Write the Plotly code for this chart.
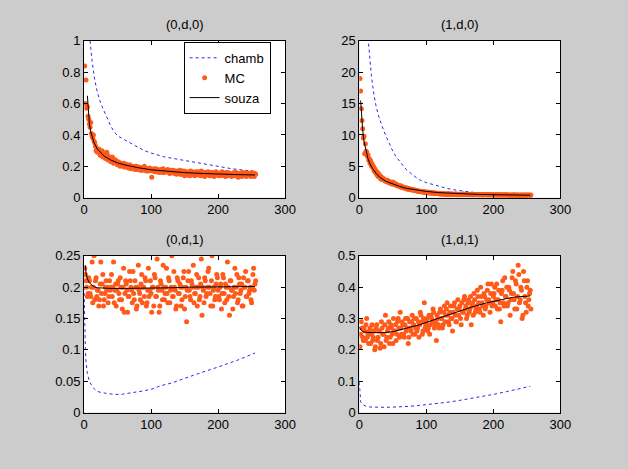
import plotly.graph_objects as go

# ---------------- data ----------------
titles = ["(0,d,0)", "(1,d,0)", "(0,d,1)", "(1,d,1)"]

# MC values at odd x (1, 3, ..., 255)
mc_00_odd = [0.84, 0.75, 0.58, 0.50, 0.45, 0.41, 0.38, 0.36, 0.33, 0.31,
             0.30, 0.29, 0.28, 0.30, 0.27, 0.28, 0.26, 0.27, 0.25, 0.255,
             0.24, 0.25, 0.23, 0.24, 0.22, 0.23, 0.215, 0.22, 0.205, 0.22,
             0.20, 0.21, 0.195, 0.205, 0.19, 0.20, 0.185, 0.195, 0.20, 0.18,
             0.19, 0.185, 0.19, 0.175, 0.185, 0.19, 0.17, 0.18, 0.185, 0.175,
             0.13, 0.18, 0.17, 0.185, 0.165, 0.175, 0.17, 0.18, 0.16, 0.175,
             0.165, 0.17, 0.18, 0.16, 0.17, 0.165, 0.175, 0.155, 0.165, 0.17,
             0.16, 0.175, 0.15, 0.165, 0.17, 0.155, 0.16, 0.145, 0.165, 0.17,
             0.15, 0.16, 0.14, 0.165, 0.155, 0.16, 0.15, 0.17, 0.145, 0.16,
             0.155, 0.15, 0.165, 0.14, 0.155, 0.16, 0.145, 0.155, 0.165, 0.15,
             0.14, 0.155, 0.16, 0.145, 0.15, 0.135, 0.155, 0.16, 0.145, 0.15,
             0.14, 0.155, 0.145, 0.16, 0.14, 0.15, 0.155, 0.135, 0.15, 0.145,
             0.16, 0.14, 0.15, 0.155, 0.135, 0.15, 0.145, 0.155]
# MC values at even x (2, 4, ..., 256)
mc_00_even = [0.60, 0.57, 0.52, 0.47, 0.48, 0.39, 0.40, 0.35, 0.30, 0.29,
              0.31, 0.27, 0.29, 0.26, 0.28, 0.25, 0.29, 0.24, 0.26, 0.23,
              0.26, 0.22, 0.24, 0.23, 0.21, 0.225, 0.20, 0.215, 0.21, 0.195,
              0.215, 0.2, 0.19, 0.21, 0.185, 0.2, 0.19, 0.18, 0.2, 0.185,
              0.195, 0.175, 0.19, 0.18, 0.2, 0.175, 0.185, 0.17, 0.19, 0.18,
              0.17, 0.185, 0.165, 0.175, 0.18, 0.16, 0.175, 0.17, 0.185, 0.16,
              0.175, 0.165, 0.17, 0.155, 0.175, 0.16, 0.165, 0.17, 0.15, 0.165,
              0.16, 0.15, 0.17, 0.16, 0.14, 0.165, 0.155, 0.16, 0.14, 0.16,
              0.165, 0.15, 0.155, 0.145, 0.165, 0.15, 0.14, 0.16, 0.155, 0.135,
              0.16, 0.15, 0.155, 0.14, 0.16, 0.15, 0.135, 0.16, 0.145, 0.155,
              0.15, 0.14, 0.165, 0.15, 0.145, 0.16, 0.14, 0.15, 0.155, 0.135,
              0.15, 0.16, 0.14, 0.15, 0.13, 0.155, 0.145, 0.16, 0.14, 0.15,
              0.135, 0.155, 0.145, 0.14, 0.16, 0.145, 0.135, 0.15]

mc_10_odd = [19.0, 14.2, 11.0, 9.8, 8.6, 7.3, 6.8, 6.2, 5.9, 5.4,
             5.0, 4.6, 4.3, 4.0, 3.8, 3.5, 3.3, 3.1, 3.0, 2.8,
             2.7, 2.5, 2.6, 2.4, 2.3, 2.4, 2.1, 2.2, 2.0, 1.9,
             1.8, 1.75, 1.7, 1.6, 1.5, 1.5, 1.4, 1.35, 1.3, 1.25,
             1.2, 1.15, 1.1, 1.05, 1.0, 1.0, 0.95, 0.9, 0.9, 0.85,
             0.85, 0.8, 0.8, 0.75, 0.75, 0.7, 0.7, 0.7, 0.65, 0.65,
             0.62, 0.55, 0.65, 0.58, 0.6, 0.52, 0.63, 0.57, 0.55, 0.6,
             0.5, 0.58, 0.53, 0.56, 0.49, 0.55, 0.52, 0.58, 0.5, 0.54,
             0.48, 0.53, 0.5, 0.47, 0.55, 0.49, 0.51, 0.46, 0.52, 0.48,
             0.5, 0.45, 0.49, 0.47, 0.51, 0.44, 0.48, 0.46, 0.5, 0.43,
             0.47, 0.45, 0.42, 0.48, 0.44, 0.46, 0.41, 0.45, 0.43, 0.47,
             0.42, 0.44, 0.05, 0.45, 0.41, 0.43, 0.4, 0.44, 0.42, 0.1,
             0.41, 0.43, 0.39, 0.42, 0.4, 0.44, 0.38, 0.41]
mc_10_even = [17.0, 12.3, 9.5, 7.0, 7.4, 6.6, 6.0, 5.5, 5.1, 4.8,
              4.3, 4.0, 3.7, 3.4, 3.3, 3.0, 2.9, 3.0, 2.7, 2.6,
              2.8, 2.4, 2.5, 2.2, 2.5, 2.1, 2.2, 1.9, 2.0, 1.75,
              1.9, 1.6, 1.65, 1.5, 1.6, 1.35, 1.45, 1.25, 1.35, 1.2,
              1.25, 1.1, 1.15, 1.0, 1.05, 0.95, 1.0, 0.85, 0.95, 0.8,
              0.9, 0.75, 0.85, 0.7, 0.8, 0.7, 0.75, 0.65, 0.7, 0.6,
              0.66, 0.57, 0.6, 0.53, 0.62, 0.55, 0.58, 0.5, 0.6, 0.54,
              0.52, 0.57, 0.48, 0.55, 0.51, 0.53, 0.47, 0.56, 0.5, 0.52,
              0.46, 0.54, 0.49, 0.51, 0.45, 0.52, 0.48, 0.5, 0.44, 0.5,
              0.47, 0.49, 0.43, 0.5, 0.46, 0.48, 0.42, 0.47, 0.45, 0.44,
              0.48, 0.43, 0.46, 0.41, 0.47, 0.44, 0.42, 0.46, 0.4, 0.45,
              0.43, 0.41, 0.44, 0.4, 0.46, 0.42, 0.39, 0.45, 0.41, 0.43,
              0.38, 0.44, 0.4, 0.42, 0.39, 0.43, 0.4, 0.42]

mc_01_odd = [0.23, 0.21, 0.185, 0.215, 0.19, 0.2, 0.175, 0.25, 0.21, 0.185,
             0.195, 0.18, 0.24, 0.205, 0.17, 0.19, 0.21, 0.2, 0.185, 0.195,
             0.22, 0.2, 0.175, 0.205, 0.195, 0.21, 0.18, 0.2, 0.165, 0.23,
             0.19, 0.205, 0.16, 0.185, 0.21, 0.195, 0.225, 0.18, 0.2, 0.17,
             0.235, 0.19, 0.205, 0.175, 0.2, 0.215, 0.17, 0.195, 0.185, 0.21,
             0.16, 0.2, 0.22, 0.185, 0.245, 0.195, 0.17, 0.205, 0.18, 0.2,
             0.19, 0.23, 0.175, 0.21, 0.195, 0.25, 0.185, 0.2, 0.165, 0.215,
             0.19, 0.205, 0.17, 0.2, 0.225, 0.185, 0.145, 0.21, 0.195, 0.18,
             0.205, 0.235, 0.19, 0.2, 0.17, 0.215, 0.185, 0.245, 0.2, 0.175,
             0.21, 0.19, 0.225, 0.2, 0.17, 0.25, 0.195, 0.18, 0.205, 0.215,
             0.185, 0.2, 0.165, 0.22, 0.19, 0.205, 0.18, 0.2, 0.155, 0.21,
             0.195, 0.185, 0.23, 0.2, 0.175, 0.215, 0.19, 0.205, 0.17, 0.2,
             0.225, 0.185, 0.21, 0.195, 0.18, 0.2, 0.23, 0.205]
mc_01_even = [0.22, 0.2, 0.19, 0.21, 0.185, 0.24, 0.2, 0.18, 0.215, 0.195,
              0.17, 0.205, 0.19, 0.22, 0.18, 0.2, 0.195, 0.175, 0.21, 0.2,
              0.185, 0.24, 0.195, 0.17, 0.205, 0.19, 0.215, 0.18, 0.2, 0.16,
              0.21, 0.195, 0.185, 0.225, 0.2, 0.175, 0.19, 0.21, 0.165, 0.2,
              0.195, 0.18, 0.22, 0.2, 0.185, 0.21, 0.175, 0.23, 0.195, 0.19,
              0.2, 0.17, 0.215, 0.185, 0.2, 0.16, 0.21, 0.195, 0.235, 0.18,
              0.2, 0.19, 0.215, 0.175, 0.2, 0.185, 0.225, 0.195, 0.17, 0.21,
              0.19, 0.2, 0.18, 0.215, 0.165, 0.2, 0.195, 0.225, 0.185, 0.21,
              0.2, 0.175, 0.19, 0.22, 0.2, 0.18, 0.205, 0.155, 0.195, 0.215,
              0.185, 0.2, 0.23, 0.19, 0.21, 0.17, 0.2, 0.185, 0.22, 0.195,
              0.18, 0.205, 0.19, 0.215, 0.175, 0.2, 0.24, 0.185, 0.21, 0.195,
              0.165, 0.2, 0.19, 0.22, 0.18, 0.205, 0.195, 0.17, 0.215, 0.2,
              0.185, 0.21, 0.19, 0.2, 0.175, 0.22, 0.195, 0.21]

mc_11_odd = [0.21, 0.29, 0.24, 0.27, 0.23, 0.3, 0.25, 0.26, 0.22, 0.28,
             0.24, 0.2, 0.27, 0.23, 0.26, 0.205, 0.29, 0.25, 0.21, 0.31,
             0.24, 0.27, 0.22, 0.28, 0.25, 0.3, 0.26, 0.23, 0.29, 0.27,
             0.32, 0.25, 0.28, 0.24, 0.3, 0.27, 0.22, 0.29, 0.26, 0.31,
             0.28, 0.25, 0.3, 0.27, 0.24, 0.32, 0.29, 0.26, 0.35, 0.28,
             0.3, 0.27, 0.25, 0.31, 0.29, 0.32, 0.28, 0.23, 0.3, 0.27,
             0.33, 0.3, 0.28, 0.34, 0.31, 0.35, 0.29, 0.32, 0.3, 0.26,
             0.34, 0.31, 0.29, 0.36, 0.33, 0.3, 0.35, 0.32, 0.37, 0.34,
             0.31, 0.36, 0.33, 0.28, 0.35, 0.38, 0.32, 0.34, 0.37, 0.33,
             0.4, 0.35, 0.31, 0.37, 0.34, 0.39, 0.36, 0.32, 0.41, 0.35,
             0.38, 0.34, 0.41, 0.36, 0.33, 0.29, 0.39, 0.35, 0.43, 0.37,
             0.34, 0.4, 0.31, 0.38, 0.45, 0.36, 0.42, 0.33, 0.47, 0.35,
             0.4, 0.3, 0.45, 0.37, 0.32, 0.42, 0.36, 0.39]
mc_11_even = [0.25, 0.27, 0.23, 0.26, 0.28, 0.24, 0.22, 0.27, 0.25, 0.23,
              0.26, 0.21, 0.28, 0.24, 0.26, 0.22, 0.27, 0.25, 0.28, 0.23,
              0.26, 0.29, 0.24, 0.27, 0.22, 0.26, 0.28, 0.25, 0.3, 0.24,
              0.27, 0.29, 0.25, 0.28, 0.26, 0.3, 0.24, 0.27, 0.29, 0.25,
              0.3, 0.27, 0.26, 0.29, 0.28, 0.31, 0.25, 0.3, 0.27, 0.29,
              0.26, 0.31, 0.28, 0.3, 0.33, 0.27, 0.29, 0.31, 0.28, 0.32,
              0.3, 0.27, 0.32, 0.29, 0.33, 0.31, 0.28, 0.34, 0.3, 0.32,
              0.35, 0.29, 0.33, 0.31, 0.34, 0.28, 0.32, 0.36, 0.33, 0.3,
              0.35, 0.32, 0.37, 0.34, 0.31, 0.36, 0.33, 0.39, 0.35, 0.32,
              0.37, 0.34, 0.38, 0.33, 0.36, 0.41, 0.35, 0.38, 0.34, 0.37,
              0.4, 0.36, 0.33, 0.39, 0.35, 0.38, 0.42, 0.34, 0.37, 0.4,
              0.35, 0.39, 0.36, 0.43, 0.38, 0.33, 0.41, 0.37, 0.44, 0.36,
              0.39, 0.31, 0.42, 0.35, 0.4, 0.34, 0.38, 0.33]

# chamb curves
chamb_00_x = [9, 12, 16, 20, 25, 30, 35, 40, 45, 50, 60, 70, 80, 90, 100, 120, 140, 160, 180, 200, 220, 240, 255]
chamb_00_y = [1.0, 0.87, 0.75, 0.67, 0.6, 0.55, 0.5, 0.455, 0.42, 0.395, 0.37, 0.345, 0.32, 0.30, 0.285, 0.26, 0.245, 0.23, 0.215, 0.2, 0.185, 0.175, 0.168]
chamb_10_x = [13, 15, 18, 21, 24, 28, 32, 36, 40, 45, 50, 55, 60, 70, 80, 90, 100, 115, 130, 145, 160, 175, 190, 210, 230, 255]
chamb_10_y = [25.5, 22.5, 19.5, 17, 15.1, 13.3, 12, 10.8, 9.8, 8.5, 7.4, 6.5, 5.8, 4.5, 3.6, 2.85, 2.4, 1.9, 1.5, 1.2, 0.95, 0.78, 0.65, 0.55, 0.48, 0.42]
chamb_01_x = [0, 0.5, 1, 2, 3, 5, 8, 12, 16, 20, 25, 35, 45, 55, 70, 85, 100, 115, 130, 150, 170, 190, 210, 230, 255]
chamb_01_y = [0.2, 0.16, 0.13, 0.1, 0.08, 0.062, 0.05, 0.042, 0.037, 0.034, 0.032, 0.03, 0.029, 0.029, 0.031, 0.034, 0.037, 0.043, 0.047, 0.055, 0.062, 0.069, 0.076, 0.084, 0.095]
chamb_11_x = [0, 0.5, 1, 2, 4, 7, 10, 15, 20, 30, 45, 60, 75, 90, 105, 120, 135, 150, 165, 180, 200, 220, 240, 255]
chamb_11_y = [0.097, 0.07, 0.05, 0.035, 0.027, 0.022, 0.02, 0.018, 0.017, 0.017, 0.017, 0.018, 0.02, 0.023, 0.026, 0.03, 0.034, 0.039, 0.044, 0.049, 0.058, 0.067, 0.076, 0.084]

# souza curves
souza_00_x = [5, 6, 7, 8, 10, 12, 15, 20, 25, 30, 40, 50, 60, 70, 80, 100, 120, 150, 180, 200, 230, 255]
souza_00_y = [0.65, 0.57, 0.51, 0.47, 0.42, 0.39, 0.35, 0.31, 0.285, 0.265, 0.24, 0.222, 0.21, 0.2, 0.192, 0.178, 0.17, 0.16, 0.154, 0.15, 0.147, 0.145]
souza_10_x = [2, 3, 4, 5, 7, 10, 13, 16, 20, 25, 30, 40, 50, 60, 70, 80, 100, 120, 150, 180, 210, 255]
souza_10_y = [15.5, 13.5, 12, 10.8, 9, 7.3, 6.2, 5.4, 4.6, 3.9, 3.3, 2.6, 2.15, 1.8, 1.5, 1.3, 1.0, 0.8, 0.62, 0.52, 0.46, 0.4]
souza_01_x = [2, 3, 5, 8, 12, 16, 20, 30, 40, 60, 80, 100, 130, 160, 200, 230, 255]
souza_01_y = [0.235, 0.222, 0.213, 0.207, 0.203, 0.2, 0.199, 0.198, 0.198, 0.198, 0.198, 0.198, 0.199, 0.2, 0.2, 0.201, 0.201]
souza_11_x = [0, 3, 6, 10, 20, 35, 50, 70, 90, 110, 130, 150, 170, 190, 210, 230, 255]
souza_11_y = [0.272, 0.262, 0.258, 0.256, 0.255, 0.255, 0.258, 0.268, 0.28, 0.295, 0.31, 0.325, 0.338, 0.35, 0.36, 0.368, 0.372]

y_ranges = [[0, 1], [0, 25], [0, 0.25], [0, 0.5]]
y_dticks = [0.2, 5, 0.05, 0.1]

panels = [
    (mc_00_odd, mc_00_even, chamb_00_x, chamb_00_y, souza_00_x, souza_00_y),
    (mc_10_odd, mc_10_even, chamb_10_x, chamb_10_y, souza_10_x, souza_10_y),
    (mc_01_odd, mc_01_even, chamb_01_x, chamb_01_y, souza_01_x, souza_01_y),
    (mc_11_odd, mc_11_even, chamb_11_x, chamb_11_y, souza_11_x, souza_11_y),
]

# ---------------- layout ----------------
W, H = 628, 469
col_px = [(82, 288), (364, 570)]
row_px = [(35, 197), (257, 419)]

ORANGE = "#ff5a1a"
BLUE = "#2a2ae8"
FONT = "Liberation Sans, Arial, sans-serif"

fig = go.Figure()
layout = dict(
    width=W, height=H,
    margin=dict(l=0, r=0, t=0, b=0),
    paper_bgcolor="#cccccc",
    plot_bgcolor="white",
    font=dict(family=FONT, size=13, color="black"),
    showlegend=True,
    legend=dict(
        x=184 / W, y=1 - 36 / H, xanchor="left", yanchor="top",
        bgcolor="white", bordercolor="black", borderwidth=1,
        font=dict(size=13, family=FONT, color="black"),
        tracegroupgap=0, itemwidth=30,
    ),
)
annotations = []

for i, (mc_o, mc_e, cx, cy, sx, sy) in enumerate(panels):
    r, c = divmod(i, 2)
    ax = "" if i == 0 else str(i + 1)
    x0, x1 = col_px[c]
    y0, y1 = row_px[r]
    common = dict(
        showline=True, linecolor="black", linewidth=1, mirror="ticks",
        ticks="inside", ticklen=4, tickcolor="black", showgrid=False, zeroline=False,
        tickfont=dict(size=13, family=FONT, color="black"),
    )
    layout["xaxis" + ax] = dict(domain=[x0 / W, x1 / W], anchor="y" + ax,
                                range=[0, 300], dtick=100, **common)
    layout["yaxis" + ax] = dict(domain=[1 - y1 / H, 1 - y0 / H], anchor="x" + ax,
                                range=y_ranges[i], dtick=y_dticks[i], **common)

    mc_x = list(range(1, 2 * len(mc_o), 2)) + list(range(2, 2 * len(mc_e) + 1, 2))
    mc_y = list(mc_o) + list(mc_e)
    fig.add_trace(go.Scatter(
        x=cx, y=cy, mode="lines", name="chamb", showlegend=(i == 0),
        line=dict(color=BLUE, width=1, dash="3px,3px"),
        xaxis="x" + ax, yaxis="y" + ax,
    ))
    fig.add_trace(go.Scatter(
        x=mc_x, y=mc_y, mode="markers", name="MC", showlegend=(i == 0),
        marker=dict(color=ORANGE, size=5, symbol="circle", line=dict(width=0)),
        xaxis="x" + ax, yaxis="y" + ax,
    ))
    fig.add_trace(go.Scatter(
        x=sx, y=sy, mode="lines", name="souza", showlegend=(i == 0),
        line=dict(color="black", width=1),
        xaxis="x" + ax, yaxis="y" + ax,
    ))
    annotations.append(dict(
        text=titles[i], xref="paper", yref="paper",
        x=(x0 + x1) / 2 / W, y=1 - y0 / H, xanchor="center", yanchor="bottom",
        yshift=7, showarrow=False, font=dict(size=13, family=FONT, color="black"),
    ))

layout["annotations"] = annotations
fig.update_layout(**layout)
fig.write_html("out.html")
